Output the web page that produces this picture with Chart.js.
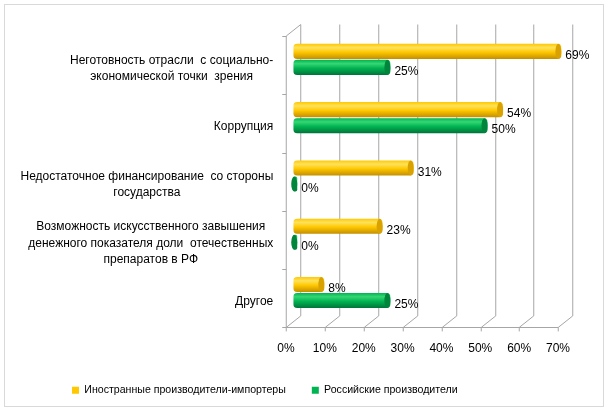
<!DOCTYPE html>
<html>
<head>
<meta charset="utf-8">
<script src="https://cdn.jsdelivr.net/npm/chart.js@4"></script>
<style>
  html, body { margin: 0; padding: 0; background: #fff; }
  #wrap { width: 609px; height: 414px; }
</style>
</head>
<body>
<div id="wrap"><canvas id="chart"></canvas></div>
<script>
const categories = [
  ['Неготовность отрасли  с социально-', 'экономической точки  зрения'],
  ['Коррупция'],
  ['Недостаточное финансирование  со стороны', 'государства'],
  ['Возможность искусственного завышения', 'денежного показателя доли  отечественных', 'препаратов в РФ'],
  ['Другое']
]
const foreignValues = [69, 54, 31, 23, 8]
const russianValues = [25, 50, 0, 0, 25]
const seriesNames = ['Иностранные производители-импортеры', 'Российские производители']
const xTicks = [0, 10, 20, 30, 40, 50, 60, 70]

const FONT = '"Liberation Sans", Arial, sans-serif'
const DEPTH = { x: 7.25, y: 5.75 }   // half depth of the 3d box
const GRID = '#a6a6a6'

const yellow = { light: '#ffe25c', mid: '#ffc800', dark: '#c48f00', cap: '#d9a200' }
const green = { light: '#35d774', mid: '#00b451', dark: '#00743a', cap: '#00853c' }

function cylinder(c, col) {
  const chart = c.chart
  const ys = chart.scales.y
  if (!ys || !chart.chartArea) return col.mid
  const center = ys.getPixelForValue(c.dataIndex) + (c.datasetIndex ? 8 : -8)
  const g = chart.ctx.createLinearGradient(0, center - 7.5, 0, center + 7.5)
  g.addColorStop(0, col.mid)
  g.addColorStop(0.25, col.light)
  g.addColorStop(0.55, col.mid)
  g.addColorStop(1, col.dark)
  return g
}

const frame = {
  id: 'frame',
  beforeDraw(chart) {
    const ctx = chart.ctx
    ctx.save()
    ctx.fillStyle = '#fff'
    ctx.fillRect(0, 0, chart.width, chart.height)
    ctx.strokeStyle = '#d9d9d9'
    ctx.lineWidth = 1
    ctx.strokeRect(4.5, 4.5, 599, 402)
    ctx.restore()
  }
}

const box3d = {
  id: 'box3d',
  beforeDatasetsDraw(chart) {
    const ctx = chart.ctx
    const xs = chart.scales.x
    const ys = chart.scales.y
    const a = chart.chartArea
    const top = a.top, bottom = a.bottom
    const x0 = xs.getPixelForValue(0)
    const xMax = xs.getPixelForValue(xTicks[xTicks.length - 1])
    ctx.save()
    ctx.strokeStyle = GRID
    ctx.lineWidth = 1
    ctx.beginPath()
    xTicks.forEach(v => {
      const xm = Math.round(xs.getPixelForValue(v)) + 0.5
      // back wall
      ctx.moveTo(xm + DEPTH.x, top - DEPTH.y)
      ctx.lineTo(xm + DEPTH.x, bottom - DEPTH.y)
      // floor
      ctx.lineTo(xm - DEPTH.x, bottom + DEPTH.y)
      // tick
      ctx.lineTo(xm - DEPTH.x, bottom + DEPTH.y + 4)
    })
    const fx = Math.round(x0) + 0.5 - DEPTH.x
    const fy = Math.round(bottom + DEPTH.y) + 0.5
    ctx.moveTo(fx, fy)
    ctx.lineTo(Math.round(xMax) + 0.5 - DEPTH.x, fy)
    // side wall
    ctx.moveTo(fx, fy)
    ctx.lineTo(fx, top + DEPTH.y)
    ctx.lineTo(fx + 2 * DEPTH.x, top - DEPTH.y)
    for (let i = 0; i <= categories.length; i++) {
      const yb = Math.round(ys.getPixelForValue(i - 0.5) + DEPTH.y) + 0.5
      ctx.moveTo(fx - 4, yb)
      ctx.lineTo(fx, yb)
    }
    ctx.stroke()

    // category labels, lines centred on each other, right edge at the axis
    ctx.fillStyle = '#000'
    ctx.font = '12px ' + FONT
    ctx.textAlign = 'center'
    ctx.textBaseline = 'middle'
    const right = fx - 13
    categories.forEach((lines, i) => {
      const w = Math.max(...lines.map(l => ctx.measureText(l).width))
      const cx = right - w / 2
      const cy = ys.getPixelForValue(i) + 9
      const lh = 16.3
      lines.forEach((l, k) => {
        ctx.fillText(l, cx, cy + (k - (lines.length - 1) / 2) * lh)
      })
    })
    ctx.restore()
  },
  afterDatasetsDraw(chart) {
    const ctx = chart.ctx
    ctx.save()
    const cols = [yellow, green]
    chart.data.datasets.forEach((ds, di) => {
      chart.getDatasetMeta(di).data.forEach((el, i) => {
        const p = el.getProps(['x', 'y', 'height'], true)
        const h = Math.abs(p.height)
        // end cap of the cylinder
        ctx.beginPath()
        ctx.ellipse(p.x - 3, p.y, 3, h / 2, 0, 0, Math.PI * 2)
        ctx.fillStyle = cols[di].cap
        ctx.fill()
        // value label
        ctx.fillStyle = '#000'
        ctx.font = '12px ' + FONT
        ctx.textAlign = 'left'
        ctx.textBaseline = 'middle'
        ctx.fillText(ds.data[i] + '%', p.x + 4, p.y + 4.5)
      })
    })
    ctx.restore()
  }
}

new Chart(document.getElementById('chart'), {
  type: 'bar',
  data: {
    labels: categories,
    datasets: [
      {
        label: seriesNames[0],
        data: foreignValues,
        backgroundColor: c => cylinder(c, yellow),
        borderRadius: 4,
        borderSkipped: false,
        minBarLength: 4
      },
      {
        label: seriesNames[1],
        data: russianValues,
        backgroundColor: c => cylinder(c, green),
        borderRadius: 4,
        borderSkipped: false,
        minBarLength: 4
      }
    ]
  },
  options: {
    indexAxis: 'y',
    responsive: true,
    maintainAspectRatio: false,
    animation: false,
    categoryPercentage: 0.55,
    barPercentage: 0.94,
    layout: { padding: { left: 46, right: 43.75, top: 30.25, bottom: 8.5 } },
    scales: {
      x: {
        min: 0,
        max: 70,
        grid: { display: false, drawTicks: false },
        border: { display: false },
        ticks: {
          stepSize: 10,
          padding: 20,
          labelOffset: -DEPTH.x,
          color: '#000',
          font: { family: FONT, size: 12 },
          callback: v => v + '%'
        },
        afterFit: s => { s.height = 37.25 }
      },
      y: {
        grid: { display: false, drawTicks: false },
        border: { display: false },
        ticks: { display: false },
        afterFit: s => { s.width = 247.25 }
      }
    },
    plugins: {
      legend: {
        position: 'bottom',
        align: 'start',
        labels: {
          boxWidth: 7,
          boxHeight: 7,
          padding: 26,
          color: '#000',
          font: { family: FONT, size: 10.6 },
          generateLabels: chart => chart.data.datasets.map((d, i) => ({
            text: d.label,
            fillStyle: i ? green.mid : yellow.mid,
            strokeStyle: i ? green.mid : yellow.mid,
            lineWidth: 0,
            datasetIndex: i
          }))
        }
      },
      tooltip: { enabled: false }
    }
  },
  plugins: [frame, box3d]
})
</script>
</body>
</html>
